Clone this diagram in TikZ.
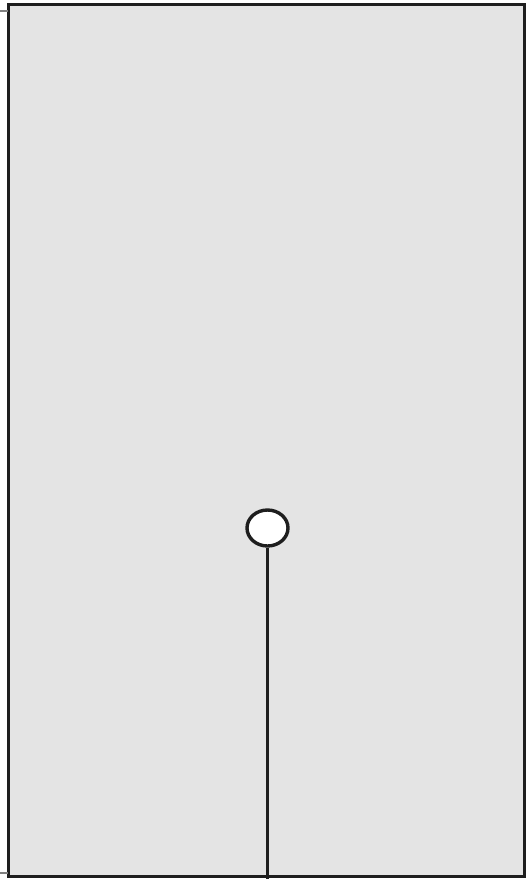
\documentclass[tikz,border=0pt]{standalone}
\usepackage{tikz}
\usetikzlibrary{shapes.geometric}
\definecolor{panelgray}{RGB}{228,228,228}
\definecolor{edgedark}{RGB}{30,30,30}

\begin{document}
\begin{tikzpicture}[x=1pt,y=-1pt,
    panel/.style={draw=edgedark, line width=3pt, fill=panelgray},
    knob/.style={ellipse, draw=edgedark, line width=3.4pt, fill=white,
                 minimum width=41pt, minimum height=36pt, inner sep=0pt},
    stem/.style={draw=edgedark, line width=3pt}
]
\useasboundingbox (0,0) rectangle (526,879);
\draw[panel] (8,4) rectangle (524.5,876);
\draw[gray, line width=2pt] (0,11) -- (8,11);
\draw[gray, line width=2pt] (0,873) -- (8,873);
\node[knob] (knob) at (267.5,528) {};
\coordinate (base) at (267.5,879);
\draw[stem] (knob.south) -- (base);
\end{tikzpicture}
\end{document}
